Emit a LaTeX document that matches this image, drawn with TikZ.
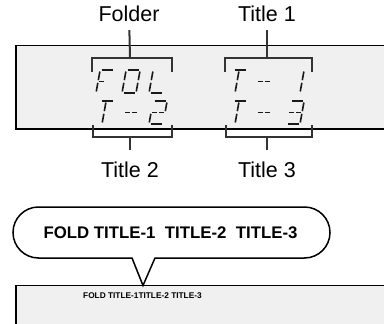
\documentclass[tikz,border=0pt]{standalone}
\usepackage{fontspec}
\usetikzlibrary{positioning,calc}
\newfontfamily\lblfont{Liberation Sans}
\definecolor{lcdgray}{RGB}{240,240,240}
\definecolor{brk}{RGB}{51,51,51}
% segments of one display cell (14 x 23, bottom-left origin)
\def\segA{(1.5,23)--(12.5,23)}
\def\segB{(14,21.5)--(14,12.8)}
\def\segC{(14,10.2)--(14,1.5)}
\def\segD{(1.5,0)--(12.5,0)}
\def\segE{(0,10.2)--(0,1.5)}
\def\segF{(0,21.5)--(0,12.8)}
\def\segG{(1,11.5)--(6.3,11.5)}
\def\segH{(7.7,11.5)--(13,11.5)}
\def\segI{(6,21.5)--(6,12.8)}
\def\segJ{(6,10.2)--(6,1.5)}
\newcommand\lcdchar[3]{%
  \begin{scope}[shift={(#1,#2)},y=1pt,xslant=0.18]
    \foreach \s in {#3}{\edef\lcdpath{\noexpand\draw[lcdseg] \csname seg\s\endcsname;}\lcdpath}
  \end{scope}}

\begin{document}
\begin{tikzpicture}[x=1pt, y=-1pt, line join=miter,
  panel/.style={draw=black, line width=1.2pt, fill=lcdgray},
  lcdseg/.style={draw=black!90, line width=1.6pt},
  bracket/.style={draw=brk, line width=2pt},
  lbl/.style={font=\lblfont\fontsize{21.5}{24}\selectfont, text height=15pt, text depth=0pt, inner ysep=9pt, anchor=base},
  bubble/.style={draw=black, line width=1.5pt, fill=white}]
\useasboundingbox (0,0) rectangle (384,324);

% display panels
\path[panel] (16,45.5) rectangle (392,129);
\path[panel] (16,285.5) rectangle (392,332);

% segment characters
\lcdchar{96}{93}{A,F,E,G}
\lcdchar{122}{93}{A,B,C,D,E,F}
\lcdchar{149}{93}{F,E,D}
\lcdchar{96}{124}{A,I,J}
\lcdchar{122}{124}{G,H}
\lcdchar{149}{124}{A,B,G,H,E,D}
\lcdchar{229}{93}{A,I,J}
\lcdchar{255}{93}{G,H}
\lcdchar{286}{93}{B,C}
\lcdchar{229}{124}{A,I,J}
\lcdchar{255}{124}{G,H}
\lcdchar{286}{124}{A,B,G,H,C,D}

% brackets
\draw[bracket] (92,72) -- (92,58) -- (172,58) -- (172,72);
\draw[bracket] (225,72) -- (225,58) -- (312,58) -- (312,72);
\draw[bracket] (93,125) -- (93,137) -- (172,137) -- (172,125);
\draw[bracket] (226,125) -- (226,137) -- (312,137) -- (312,125);
\coordinate (fb) at (130,58);
\coordinate (t1b) at (267,58);
\coordinate (t2b) at (130,137);
\coordinate (t3b) at (267,137);

\node[lbl] (folder) at (129,21) {Folder};
\node[lbl] (title1) at (267,21) {Title 1};
\node[lbl, inner ysep=12.5pt] (title2) at (130,178) {Title 2};
\node[lbl, inner ysep=12.5pt] (title3) at (267,178) {Title 3};

\path[bracket]
    (fb) edge (folder)
    (t1b) edge (title1)
    (t2b) edge (title2)
    (t3b) edge (title3);

% speech bubble
\coordinate (tip) at (143,285.5);
\draw[bubble] (tip) -- (132,258) [rounded corners=25.5pt] -- (13,258) -- (13,207)
    -- (330,207) -- (330,258) [sharp corners] -- (155,258) -- cycle;
\node[font=\lblfont\bfseries\fontsize{16.8}{20}\selectfont] (bubtxt) at (170.5,232.5)
    {FOLD TITLE-1\ \ TITLE-2\ \ TITLE-3};

\node[font=\lblfont\bfseries\fontsize{8.3}{10}\selectfont, anchor=west, inner sep=0pt] (lcdtxt) at (83,295.5)
    {FOLD TITLE-1TITLE-2 TITLE-3};
\end{tikzpicture}
\end{document}
